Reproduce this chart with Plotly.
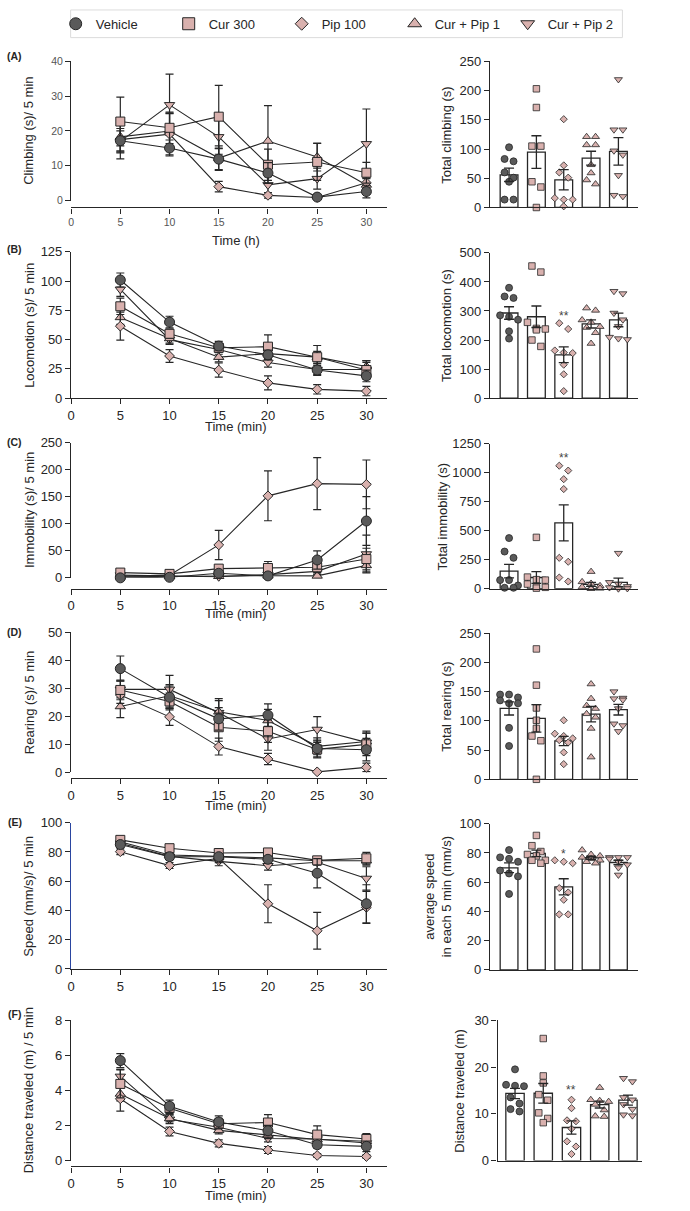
import plotly.graph_objects as go
import numpy as np

W, H = 690, 1211
FONT = "Arial, Liberation Sans, sans-serif"
INK = "#262626"
PINK = "#d9b1ae"
DARK = "#5a5a5a"

# ---------------- data ----------------
times = [5, 10, 15, 20, 25, 30]
time_ticks = [0, 5, 10, 15, 20, 25, 30]
groups = ["Vehicle", "Cur 300", "Pip 100", "Cur + Pip 1", "Cur + Pip 2"]

# (A) climbing per 5 min: Vehicle, Cur 300, Pip 100, Cur+Pip 1, Cur+Pip 2
climb_mean = [[17.2, 15.1, 11.9, 7.9, 1.0, 2.6],
              [22.7, 20.9, 24.1, 10.3, 11.1, 8.0],
              [17.5, 19.1, 4.0, 1.5, 0.9, 5.1],
              [18.3, 20.0, 12.2, 17.1, 12.5, 4.5],
              [17.0, 27.5, 18.3, 4.5, 6.3, 16.3]]
climb_sem = [[3.5, 2.3, 3.0, 3.0, 0.8, 1.8],
             [7.0, 4.5, 9.0, 4.5, 5.3, 3.0],
             [5.5, 6.0, 1.5, 0.8, 0.5, 3.0],
             [4.0, 5.0, 3.5, 10.2, 4.0, 2.0],
             [3.0, 8.8, 5.0, 3.0, 3.0, 10.0]]
climb_pts = [[103, 83, 79, 60, 51, 44, 13.5, 13.5],
             [203, 171, 105, 105, 44, 35, 0],
             [151, 72, 60, 51, 16, 13.5, 13.5, 2],
             [121, 121, 107, 107, 73, 59, 47, 40],
             [219, 133, 133, 97, 90, 55, 21, 19]]

# (B) locomotion
loco_mean = [[101, 65, 44.5, 37, 24, 19],
             [78.5, 55, 43, 44, 35, 24],
             [61.5, 36, 24, 13, 7.5, 6],
             [69, 51, 35, 38, 35, 27],
             [93, 50, 41.5, 30.5, 24.5, 24.5]]
loco_sem = [[6, 5, 4, 4, 4, 5],
            [7, 4, 3, 10, 10, 8],
            [12, 5.5, 6, 6, 4, 4],
            [6, 4, 4, 5, 5, 5],
            [6, 4, 4, 4, 5, 6]]
loco_pts = [[380, 350, 345, 285, 280, 270, 230, 205],
            [455, 434, 261, 240, 238, 235, 200, 178],
            [258, 238, 164, 157, 155, 115, 82, 24],
            [310, 302, 269, 261, 246, 243, 225, 188],
            [368, 360, 293, 270, 247, 210, 205, 202]]

# (C) immobility
immob_mean = [[0, 1, 8.5, 3.6, 33, 105],
              [9.7, 7.3, 17, 18.2, 19.5, 34.7],
              [3, 5, 60.8, 151.5, 174, 172.7],
              [2, 3, 3, 4, 3.6, 23],
              [5, 4, 2, 6, 12, 44]]
immob_sem = [[1, 1, 2, 2, 17, 45],
             [4, 3, 5, 12, 10, 20],
             [1, 2, 27, 46, 48, 45],
             [1, 1, 1, 2, 2, 12],
             [2, 1, 1, 2, 5, 35]]
immob_pts = [[436, 320, 266, 74, 74, 28, 8, 8],
             [442, 100, 78, 74, 40, 20, 12, 5],
             [1059, 1017, 943, 858, 266, 232, 96, 62],
             [147, 59, 45, 25, 15, 5, 3, 0],
             [306, 55, 40, 20, 10, 5, 2, 0]]

# (D) rearing
rear_mean = [[37, 26.8, 19.1, 20.4, 8.5, 8.1],
             [29.4, 25.3, 16.1, 14.7, 8.2, 10],
             [27.6, 19.8, 9.2, 4.8, 0.2, 1.8],
             [23.5, 27.3, 21.6, 18.5, 9.3, 11],
             [29.6, 29.6, 21.3, 11.9, 15.3, 10.7]]
rear_sem = [[4.5, 4, 4, 4, 3, 4],
            [3.5, 3, 5, 4, 3, 4],
            [3, 3, 3, 2, 0.3, 1.5],
            [4, 4, 4, 4, 3, 3],
            [3, 5, 5, 4, 4.6, 4]]
rear_pts = [[145, 145, 140, 135, 130, 130, 88, 57],
            [223, 161, 122, 101, 87, 74, 66, 0],
            [101, 78, 74, 70, 67, 63, 46, 26],
            [163, 138, 126, 121, 112, 106, 87, 38],
            [150, 139, 138, 136, 121, 95, 92, 82]]

# (E) speed
speed_mean = [[85.1, 76.8, 76.8, 75, 65.5, 44.6],
              [88.3, 82.6, 79.3, 79.7, 74.3, 75.7],
              [80.2, 70.7, 75.7, 44.6, 26.1, 42.1],
              [87, 78, 77, 76, 74, 74],
              [86, 77, 73.6, 70.6, 73, 61.9]]
speed_sem = [[2, 2, 2, 2, 10, 13],
             [2, 2, 2, 2, 2, 4],
             [2, 2, 3, 13, 12.6, 11],
             [2, 2, 2, 2, 2, 3],
             [2, 2, 3, 3, 2, 8]]
speed_pts = [[82, 77, 76, 74, 68, 66, 64, 52],
             [92, 85, 81, 79, 78, 75, 75, 73],
             [75, 74, 73, 56, 53, 48, 38, 38],
             [82, 79, 78, 77, 76, 75, 74, 73],
             [77, 77, 77, 76, 74, 72, 70, 65]]

# (F) distance
dist_mean = [[5.7, 3.1, 2.2, 1.7, 0.9, 0.81],
             [4.37, 2.98, 2.1, 2.17, 1.48, 1.23],
             [3.52, 1.66, 0.98, 0.6, 0.29, 0.23],
             [3.8, 2.4, 1.72, 1.45, 1.2, 1.1],
             [4.8, 2.35, 1.9, 1.26, 1.23, 1.0]]
dist_sem = [[0.4, 0.35, 0.35, 0.3, 0.2, 0.3],
            [0.8, 0.3, 0.3, 0.45, 0.5, 0.3],
            [0.7, 0.25, 0.2, 0.2, 0.1, 0.1],
            [0.4, 0.2, 0.2, 0.2, 0.2, 0.2],
            [0.4, 0.25, 0.2, 0.2, 0.2, 0.2]]
dist_pts = [[19.5, 16.2, 16, 15.9, 13.5, 12.2, 11, 10.5],
            [26.1, 18.1, 16.6, 14.1, 12.9, 10.2, 9.0, 8.1],
            [13, 11.2, 8.6, 8.4, 6.8, 4.1, 3.0, 1.4],
            [15.6, 13, 12.8, 12.6, 12, 10.8, 9.5, 9.4],
            [17.6, 16.9, 13.5, 13, 12, 11, 9.8, 9.6]]

# ---------------- styling ----------------
symbols = ["circle", "square", "diamond", "triangle-up", "triangle-down"]
fills = [DARK, PINK, PINK, PINK, PINK]
line_sizes = [10, 9, 7.5, 9, 9]
dot_sizes = [7, 6.5, 5.5, 7, 7]
legend_sizes = [12, 12, 10, 12, 12]

panels = [
    dict(tag="(A)", mean=climb_mean, sem=climb_sem, pts=climb_pts,
         ytitle="Climbing (s)/ 5 min", btitle="Total climbing (s)", xtitle="Time (h)",
         L=dict(zero=196, top=55, ymax=40, dtick=10, axis=203, tfont=10.5, tcolor="#555555", xt_y=236, tag_y=50),
         R=dict(zero=203, top=55, ymax=250, dtick=50, x0=488.75, c0=508, step=27.5, x1=637.25, title_x=445),
         star=None),
    dict(tag="(B)", mean=loco_mean, sem=loco_sem, pts=loco_pts,
         ytitle="Locomotion (s)/ 5 min", btitle="Total locomotion (s)", xtitle="Time (min)",
         L=dict(zero=396, top=248, ymax=125, dtick=25, axis=396, tfont=13, tcolor=INK, xt_y=425, tag_y=245),
         R=dict(zero=396, top=249, ymax=500, dtick=100, x0=488.75, c0=508, step=27.5, x1=637.25, title_x=445),
         star=("**", 283)),
    dict(tag="(C)", mean=immob_mean, sem=immob_sem, pts=immob_pts,
         ytitle="Immobility (s)/ 5 min", btitle="Total immobility (s)", xtitle="Time (min)",
         L=dict(zero=578, top=441, ymax=250, dtick=50, axis=589, tfont=13, tcolor=INK, xt_y=614, tag_y=440),
         R=dict(zero=589, top=442, ymax=1250, dtick=250, x0=488.75, c0=508, step=27.5, x1=637.25, title_x=441),
         star=("**", 1122)),
    dict(tag="(D)", mean=rear_mean, sem=rear_sem, pts=rear_pts,
         ytitle="Rearing (s)/ 5 min", btitle="Total rearing (s)", xtitle="Time (min)",
         L=dict(zero=775, top=633, ymax=50, dtick=10, axis=781, tfont=13, tcolor=INK, xt_y=809, tag_y=633),
         R=dict(zero=782, top=634, ymax=250, dtick=50, x0=488.75, c0=508, step=27.5, x1=637.25, title_x=445),
         star=None),
    dict(tag="(E)", mean=speed_mean, sem=speed_sem, pts=speed_pts,
         ytitle="Speed (mm/s)/ 5 min", btitle="average speed<br>in each 5 min (mm/s)", xtitle=None,
         L=dict(zero=974, top=826, ymax=100, dtick=20, axis=974, tfont=13, tcolor=INK, xt_y=None, tag_y=825,
                ylinecolor="#2a45a0"),
         R=dict(zero=975, top=827, ymax=100, dtick=20, x0=488.75, c0=508, step=27.5, x1=637.25, title_x=436),
         star=("*", 79.5)),
    dict(tag="(F)", mean=dist_mean, sem=dist_sem, pts=dist_pts,
         ytitle="Distance traveled (m) / 5 min", btitle="Distance traveled (m)", xtitle="Time (min)",
         L=dict(zero=1168, top=1026, ymax=8, dtick=2, axis=1174, tfont=13, tcolor=INK, xt_y=1203, tag_y=1020),
         R=dict(zero=1168, top=1026, ymax=30, dtick=10, x0=496.5, c0=514, step=28.4, x1=642, title_x=458),
         star=("**", 15.0)),
]

LX0, LX1 = 67.5, 385.0
PX_PER_MIN = (364.5 - 67.5) / 30.0
XMAX = (LX1 - LX0) / PX_PER_MIN


def swarm_offsets(vals, ppu, diam, gap, maxrow=3):
    """Beeswarm-style horizontal offsets in pixels."""
    order = sorted(range(len(vals)), key=lambda i: -vals[i])
    offs = [0.0] * len(vals)
    rows = []
    for i in order:
        y = vals[i] * ppu
        if rows and abs(rows[-1][0] - y) < diam and len(rows[-1][1]) < maxrow:
            rows[-1][1].append(i)
        else:
            rows.append([y, [i]])
    for _, idx in rows:
        n = len(idx)
        for k, i in enumerate(idx):
            offs[i] = (k - (n - 1) / 2.0) * gap
    return offs


def ax_names(n):
    return ("xaxis" if n == 1 else f"xaxis{n}", "yaxis" if n == 1 else f"yaxis{n}",
            "x" if n == 1 else f"x{n}", "y" if n == 1 else f"y{n}")


fig = go.Figure()
layout = dict(width=W, height=H, margin=dict(l=0, r=0, t=0, b=0),
              paper_bgcolor="white", plot_bgcolor="rgba(0,0,0,0)",
              font=dict(family=FONT, size=13, color=INK), showlegend=True)
annotations = []
shapes = []

axis_common = dict(showgrid=False, zeroline=False, showline=True, linecolor=INK, linewidth=1.3,
                   ticks="outside", ticklen=5, tickwidth=1.3, tickcolor=INK)

for i, p in enumerate(panels):
    L, R = p["L"], p["R"]
    # ---------- left: time course ----------
    xa, ya, xr, yr = ax_names(2 * i + 1)
    xdict = dict(axis_common, domain=[LX0 / W, LX1 / W], range=[0, XMAX], tickvals=time_ticks,
                 tickfont=dict(size=L["tfont"], color=L["tcolor"]))
    if L["axis"] != L["zero"]:
        xdict.update(anchor="free", position=1 - L["axis"] / H)
    else:
        xdict.update(anchor=yr)
    ydict = dict(axis_common, domain=[1 - L["zero"] / H, 1 - L["top"] / H], range=[0, L["ymax"]],
                 dtick=L["dtick"], anchor=xr, tickfont=dict(size=L["tfont"], color=L["tcolor"]))
    if "ylinecolor" in L:
        ydict.update(linecolor=L["ylinecolor"])
    layout[xa] = xdict
    layout[ya] = ydict
    for g in reversed(range(5)):
        fig.add_trace(go.Scatter(
            x=times, y=p["mean"][g], mode="lines+markers", xaxis=xr, yaxis=yr,
            line=dict(color=INK, width=1.1),
            marker=dict(symbol=symbols[g], size=line_sizes[g], color=fills[g],
                        line=dict(color=INK, width=1)),
            error_y=dict(type="data", array=p["sem"][g], visible=True, color=INK,
                         thickness=1.2, width=4),
            cliponaxis=False, showlegend=False, name=groups[g]))
    # titles / panel tag
    annotations.append(dict(text=p["ytitle"], x=25 / W, y=1 - (L["zero"] + L["top"]) / 2 / H,
                            xref="paper", yref="paper", textangle=-90, showarrow=False,
                            font=dict(size=13), xanchor="center", yanchor="middle"))
    if p["xtitle"]:
        annotations.append(dict(text=p["xtitle"], x=233 / W, y=1 - L["xt_y"] / H, xref="paper",
                                yref="paper", showarrow=False, font=dict(size=13),
                                xanchor="center", yanchor="middle"))
    annotations.append(dict(text="<b>" + p["tag"] + "</b>", x=11 / W, y=1 - L["tag_y"] / H,
                            xref="paper", yref="paper", showarrow=False, font=dict(size=10.5),
                            xanchor="center", yanchor="middle"))

    # ---------- right: totals ----------
    xa, ya, xr, yr = ax_names(2 * i + 2)
    lo = (R["x0"] - R["c0"]) / R["step"]
    hi = (R["x1"] - R["c0"]) / R["step"]
    layout[xa] = dict(axis_common, domain=[R["x0"] / W, R["x1"] / W], range=[lo, hi],
                      anchor=yr, ticks="", showticklabels=False)
    layout[ya] = dict(axis_common, domain=[1 - R["zero"] / H, 1 - R["top"] / H], range=[0, R["ymax"]],
                      dtick=R["dtick"], anchor=xr, tickfont=dict(size=13))
    means = [float(np.mean(v)) for v in p["pts"]]
    sems = [float(np.std(v, ddof=1) / np.sqrt(len(v))) for v in p["pts"]]
    fig.add_trace(go.Bar(x=list(range(5)), y=means, width=0.65, xaxis=xr, yaxis=yr,
                         marker=dict(color="white", line=dict(color=INK, width=1.3)),
                         showlegend=False))
    ppu = (R["zero"] - R["top"]) / R["ymax"]
    for g in range(5):
        offs = swarm_offsets(p["pts"][g], ppu, 7.0, 9.0)
        fig.add_trace(go.Scatter(
            x=[g + o / R["step"] for o in offs], y=p["pts"][g], mode="markers",
            xaxis=xr, yaxis=yr, cliponaxis=False, showlegend=False,
            marker=dict(symbol=symbols[g], size=dot_sizes[g], color=fills[g],
                        line=dict(color=INK, width=0.8))))
    fig.add_trace(go.Scatter(x=list(range(5)), y=means, mode="markers", xaxis=xr, yaxis=yr,
                             marker=dict(size=1, color="rgba(0,0,0,0)"), cliponaxis=False,
                             error_y=dict(type="data", array=sems, visible=True, color=INK,
                                          thickness=1.3, width=5),
                             showlegend=False, hoverinfo="skip"))
    annotations.append(dict(text=p["btitle"], x=R["title_x"] / W, y=1 - (R["zero"] + R["top"]) / 2 / H,
                            xref="paper", yref="paper", textangle=-90, showarrow=False,
                            font=dict(size=13), xanchor="center", yanchor="middle"))
    if p["star"]:
        annotations.append(dict(text=p["star"][0], x=2, y=p["star"][1], xref=xr, yref=yr,
                                showarrow=False, font=dict(size=12, color="#444444"),
                                xanchor="center", yanchor="middle"))

# legend entries
for g in range(5):
    fig.add_trace(go.Scatter(x=[None], y=[None], mode="markers", name=groups[g],
                             marker=dict(symbol=symbols[g], size=legend_sizes[g], color=fills[g],
                                         line=dict(color=INK, width=1)),
                             xaxis="x", yaxis="y", showlegend=True))

# legend frame
shapes.append(dict(type="rect", xref="paper", yref="paper", x0=67 / W, x1=622 / W,
                   y0=1 - 31 / H, y1=1 - 3 / H, line=dict(color="#dcdcdc", width=1),
                   fillcolor="rgba(0,0,0,0)", layer="below"))

layout["legend"] = dict(orientation="h", x=52 / W, y=1 - 17 / H, xanchor="left", yanchor="middle",
                        borderwidth=0, font=dict(size=13, color=INK),
                        entrywidth=68, entrywidthmode="pixels", itemsizing="trace",
                        bgcolor="rgba(0,0,0,0)")
layout["annotations"] = annotations
layout["shapes"] = shapes
fig.update_layout(**layout)
fig.write_html("out.html", config={"displayModeBar": False},
               post_script="document.documentElement.style.margin='0';"
                           "document.documentElement.style.overflow='hidden';"
                           "document.body.style.margin='0';document.body.style.overflow='hidden';")
